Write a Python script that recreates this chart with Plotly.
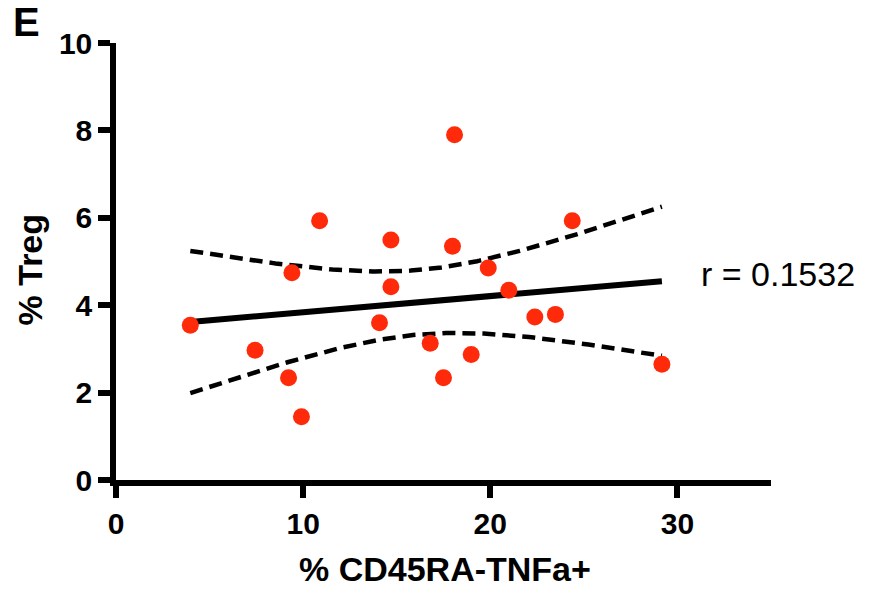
import numpy as np
import plotly.graph_objects as go

# % CD45RA-TNFa+ (x) vs % Treg (y), one point per donor
cd45ra_tnfa = [3.97, 7.43, 9.22, 9.40, 9.91, 10.88, 14.08, 14.69, 14.69, 16.79,
               17.50, 18.09, 17.98, 18.98, 19.89, 20.99, 22.38, 23.48, 24.38, 29.17]
treg = [3.54, 2.97, 2.34, 4.74, 1.45, 5.93, 3.60, 5.49, 4.42, 3.13,
        2.34, 7.90, 5.35, 2.87, 4.85, 4.34, 3.73, 3.79, 5.93, 2.65]

x_ticks = [0, 10, 20, 30]
y_ticks = [0, 2, 4, 6, 8, 10]
r_label = "r = 0.1532"
panel_label = "E"

# least-squares fit with 95% confidence band of the mean
x = np.array(cd45ra_tnfa)
y = np.array(treg)
n = len(x)
slope, intercept = np.polyfit(x, y, 1)
resid = y - (slope * x + intercept)
s = np.sqrt(np.sum(resid ** 2) / (n - 2))
sxx = np.sum((x - x.mean()) ** 2)
t_crit = 2.1009  # t(0.975, df=18)
xf = np.linspace(x.min(), x.max(), 200)
yf = slope * xf + intercept
half = t_crit * s * np.sqrt(1.0 / n + (xf - x.mean()) ** 2 / sxx)

dash_line = dict(color="black", width=4.5, dash="13px,7px")

fig = go.Figure()
fig.add_trace(go.Scatter(x=xf, y=yf + half, mode="lines", line=dash_line,
                         hoverinfo="skip"))
fig.add_trace(go.Scatter(x=xf, y=yf - half, mode="lines", line=dash_line,
                         hoverinfo="skip"))
fig.add_trace(go.Scatter(x=xf, y=yf, mode="lines",
                         line=dict(color="black", width=6)))
fig.add_trace(go.Scatter(x=cd45ra_tnfa, y=treg, mode="markers",
                         marker=dict(color="#FF2A0A", size=17, line=dict(width=0))))

family = "Liberation Sans, Arial, sans-serif"
bold = dict(family=family, color="black", weight="bold")
axis_common = dict(showline=True, linecolor="black", linewidth=5.5,
                   ticks="outside", ticklen=12, tickwidth=5.5, tickcolor="black",
                   showgrid=False, zeroline=False,
                   tickfont=dict(size=30, **bold))

fig.update_layout(
    width=876, height=609,
    margin=dict(l=116, r=105, t=43, b=129),
    paper_bgcolor="white", plot_bgcolor="white",
    showlegend=False,
    xaxis=dict(range=[0, 35], tickvals=x_ticks, ticktext=[str(v) for v in x_ticks],
               **axis_common),
    yaxis=dict(range=[0, 10], tickvals=y_ticks, ticktext=[str(v) for v in y_ticks],
               **axis_common),
    annotations=[
        dict(text="% CD45RA-TNFa+", xref="paper", yref="paper",
             x=0.502, y=-0.203, xanchor="center", yanchor="middle",
             showarrow=False, font=dict(size=34, **bold)),
        dict(text="% Treg", xref="paper", yref="paper",
             x=-0.131, y=0.48, xanchor="center", yanchor="middle",
             textangle=-90, showarrow=False, font=dict(size=34, **bold)),
        dict(text=panel_label, xref="paper", yref="paper",
             x=-0.136, y=1.047, xanchor="center", yanchor="middle",
             showarrow=False, font=dict(size=40, **bold)),
        dict(text=r_label, xref="paper", yref="paper",
             x=0.8905, y=0.471, xanchor="left", yanchor="middle",
             showarrow=False,
             font=dict(size=34, family=family, color="black")),
    ],
)

fig.write_html("out.html")
